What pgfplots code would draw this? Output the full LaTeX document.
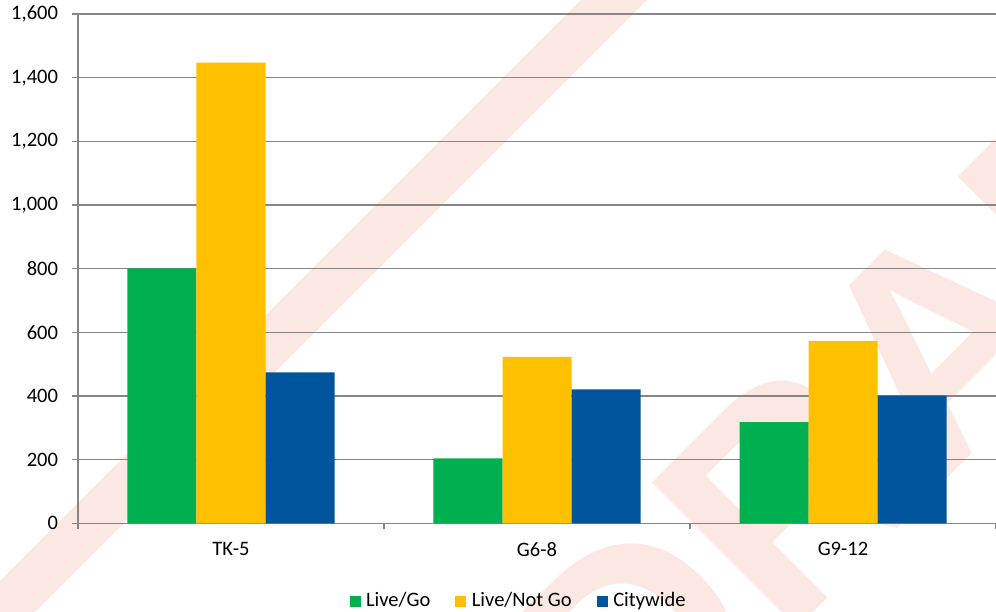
\documentclass[border=0pt]{standalone}
\usepackage{fontspec}
\setmainfont{Carlito}
\newfontfamily\wmfont{Liberation Sans}
\usepackage{pgfplots}
\pgfplotsset{compat=1.18}
\definecolor{cgreen}{RGB}{0,176,80}
\definecolor{cyellow}{RGB}{255,192,0}
\definecolor{cblue}{RGB}{0,85,156}
\definecolor{gridgray}{RGB}{134,134,134}
\definecolor{wm}{RGB}{252,232,227}
\begin{document}
\begin{tikzpicture}
\begin{scope}
\clip (-39bp,-44.35bp) rectangle (459bp,261.65bp);
\draw[wm, line width=23.5bp] (-47bp,-53.35bp) -- (278bp,271.65bp);
\node[wm, anchor=base west, inner sep=0pt, rotate=45, font=\wmfont\fontsize{150}{150}\selectfont\bfseries] at (276.5bp,-135.85bp) {DRAFT};
\end{scope}
\begin{axis}[
  at={(0,0)}, anchor=south west,
  scale only axis, width=459bp, height=254.65bp,
  xmin=-0.5, xmax=2.5, ymin=0, ymax=1600,
  ybar, bar width=0.2255,
  axis lines=left,
  axis line style={-, draw=gridgray, line width=0.65bp},
  ytick={0,200,...,1600},
  ymajorgrids,
  grid style={draw=gridgray, line width=0.65bp},
  tick align=outside,
  major tick length=3bp,
  tick style={draw=gridgray, line width=0.65bp},
  xtick={-0.5,0.5,1.5,2.5},
  xticklabels={},
  extra x ticks={0,1,2},
  extra x tick labels={TK-5,G6-8,G9-12},
  extra x tick style={major tick length=0pt, grid=none, xticklabel style={yshift=-6bp}},
  tick label style={font=\fontsize{10.3}{12}\selectfont, text=black},
  yticklabel style={xshift=-3.5bp},
  /pgf/number format/assume math mode=true,
  /pgf/number format/1000 sep={,},
  legend style={at={(0.4788,-0.153)}, anchor=center, draw=none, fill=none,
    legend columns=-1, font=\fontsize{10.3}{12}\selectfont,
    nodes={inner xsep=0pt},
    /tikz/every odd column/.append style={column sep=2.75bp},
    /tikz/every even column/.append style={column sep=12.5bp}},
  every axis plot post/.append style={legend image code/.code={\fill[##1] (0bp,-2.75bp) rectangle (5.5bp,2.75bp);}},
]
\addplot[fill=cgreen, draw=none, bar shift=-0.2255] coordinates {(0,801) (1,204) (2,318)};
\addplot[fill=cyellow, draw=none, bar shift=0] coordinates {(0,1447) (1,523) (2,573)};
\addplot[fill=cblue, draw=none, bar shift=0.2255] coordinates {(0,474) (1,421) (2,401)};
\legend{Live/Go, Live/Not Go, Citywide}
\end{axis}
\pgfresetboundingbox
\path[use as bounding box] (-39bp,-44.35bp) rectangle (459bp,261.65bp);
\end{tikzpicture}
\end{document}
